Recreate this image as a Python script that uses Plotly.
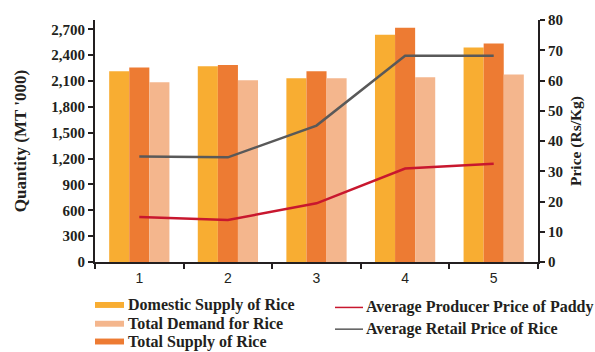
import plotly.graph_objects as go

# Data
periods = ["1", "2", "3", "4", "5"]
domestic_supply = [2212, 2270, 2131, 2638, 2488]
total_supply = [2258, 2285, 2212, 2719, 2535]
total_demand = [2085, 2108, 2131, 2143, 2177]
producer_price = [14.9, 13.9, 19.4, 30.9, 32.5]
retail_price = [34.9, 34.6, 45.1, 68.2, 68.2]

C_DOM = "#F8AD32"
C_TOT = "#ED7B33"
C_DEM = "#F4B68D"
C_PROD = "#C8172E"
C_RET = "#595959"

SERIF = "Liberation Serif"
SANS = "Liberation Sans"
INK = "#231F20"

W, H = 595, 352
L, R, T, B = 95, 57, 17, 90
PW, PH = W - L - R, H - T - B


def px_to_paper_x(px):
    return (px - L) / PW


def px_to_paper_y(py):
    return (H - B - py) / PH


fig = go.Figure()
fig.add_bar(x=periods, y=domestic_supply, name="Domestic Supply of Rice",
            marker=dict(color=C_DOM, line=dict(width=0)))
fig.add_bar(x=periods, y=total_supply, name="Total Supply of Rice",
            marker=dict(color=C_TOT, line=dict(width=0)))
fig.add_bar(x=periods, y=total_demand, name="Total Demand for Rice",
            marker=dict(color=C_DEM, line=dict(width=0)))
fig.add_scatter(x=periods, y=retail_price, yaxis="y2", mode="lines",
                name="Average Retail Price of Rice",
                line=dict(color=C_RET, width=2.5))
fig.add_scatter(x=periods, y=producer_price, yaxis="y2", mode="lines",
                name="Average Producer Price of Paddy",
                line=dict(color=C_PROD, width=2.5))

# Hand-built legend below the plot (pixel rows)
legend_font = dict(family=SERIF, size=16, color=INK)
bar_keys = [("Domestic Supply of Rice", C_DOM, 305.5),
            ("Total Demand for Rice", C_DEM, 324.5),
            ("Total Supply of Rice", C_TOT, 342.5)]
line_keys = [("Average Producer Price of Paddy", C_PROD, 308.0),
             ("Average Retail Price of Rice", C_RET, 330.0)]

shapes = []
annotations = []
for text, color, ypix in bar_keys:
    shapes.append(dict(type="rect", xref="paper", yref="paper",
                       x0=px_to_paper_x(95), x1=px_to_paper_x(124),
                       y0=px_to_paper_y(ypix + 3), y1=px_to_paper_y(ypix - 3),
                       fillcolor=color, line=dict(width=0)))
    annotations.append(dict(text="<b>" + text + "</b>", xref="paper", yref="paper",
                            x=px_to_paper_x(126), y=px_to_paper_y(ypix),
                            xanchor="left", yanchor="middle", showarrow=False,
                            font=legend_font))
for text, color, ypix in line_keys:
    shapes.append(dict(type="line", xref="paper", yref="paper",
                       x0=px_to_paper_x(335), x1=px_to_paper_x(363),
                       y0=px_to_paper_y(ypix), y1=px_to_paper_y(ypix),
                       line=dict(color=color, width=1.5)))
    annotations.append(dict(text="<b>" + text + "</b>", xref="paper", yref="paper",
                            x=px_to_paper_x(364), y=px_to_paper_y(ypix),
                            xanchor="left", yanchor="middle", showarrow=False,
                            font=legend_font))

axis_common = dict(showline=True, linecolor=INK, linewidth=2,
                   ticks="outside", ticklen=5, tickwidth=2, tickcolor=INK,
                   showgrid=False, zeroline=False)

fig.update_layout(
    width=W, height=H,
    margin=dict(l=L, r=R, t=T, b=B),
    paper_bgcolor="white", plot_bgcolor="white",
    barmode="group", bargap=0.32, bargroupgap=0,
    showlegend=False,
    shapes=shapes, annotations=annotations,
    xaxis=dict(type="category", tickson="boundaries",
               tickfont=dict(family=SANS, size=14, color=INK),
               ticklabelstandoff=2,
               **axis_common),
    yaxis=dict(range=[0, 2808], dtick=300, tickformat=",",
               tickfont=dict(family=SERIF, size=15, color=INK),
               title=dict(text="<b>Quantity (MT '000)</b>",
                          font=dict(family=SERIF, size=17, color=INK),
                          standoff=20),
               **axis_common),
    yaxis2=dict(range=[0, 80], dtick=10, overlaying="y", side="right",
                tickfont=dict(family=SERIF, size=15, color=INK),
                title=dict(text="<b>Price (Rs/Kg)</b>",
                           font=dict(family=SERIF, size=15.5, color=INK),
                           standoff=8),
                **axis_common),
)
fig.update_yaxes(tickprefix="<b>", ticksuffix="</b>")

fig.write_html("out.html")
